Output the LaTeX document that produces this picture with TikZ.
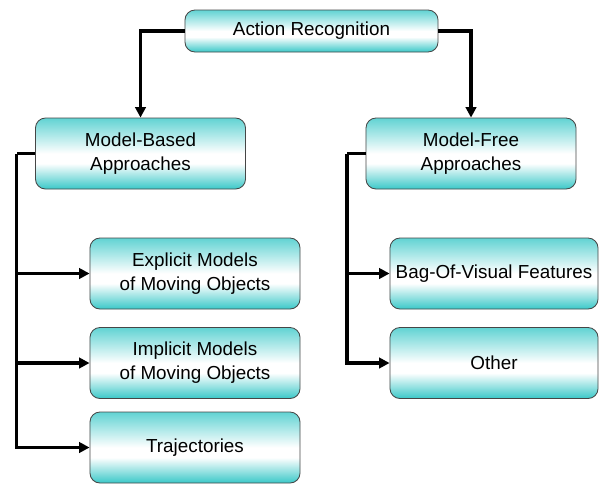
\documentclass[tikz,border=0pt]{standalone}
\usepackage{fontspec}
\setmainfont{Liberation Sans}
\usepackage{tikz}
\usetikzlibrary{arrows.meta}

\definecolor{boxteal}{RGB}{58,200,200}
\definecolor{boxedge}{RGB}{70,70,70}

% teal at top and bottom, white just below the middle
\pgfdeclareverticalshading{tealbox}{100bp}{%
  color(0bp)=(boxteal); color(25bp)=(boxteal);
  color(43bp)=(white); color(50bp)=(white);
  color(75bp)=(boxteal!80); color(100bp)=(boxteal!80)}

\tikzset{
  box/.style={draw=boxedge, line width=0.6pt, rounded corners=0.25cm,
    shading=tealbox, align=center, inner sep=0pt,
    minimum width=5.25cm, minimum height=1.775cm,
    font=\fontsize{13.4}{17}\selectfont},
  bus/.style={line width=2.4pt, line join=miter},
  conn/.style={bus, -{Triangle[length=0.26cm, width=0.26cm]}}
}

\begin{document}
\begin{tikzpicture}[x=0.025cm, y=-0.025cm]
			\useasboundingbox (0,0) rectangle (603,483);
			
			% Root
			\node[box, minimum width=6.325cm, minimum height=1.05cm] (ar) at (311.5,31) {Action Recognition};
			
			% Two families of approaches
			\node[box] (mb) at (140.5,153.5) {Model-Based\\Approaches};
			\node[box] (mf) at (471,153.5) {Model-Free\\Approaches};
			
			% Model-based branch
			\node[box] (expl) at (195,273.5) {Explicit Models\\of Moving Objects};
			\node[box] (impl) at (195,363) {Implicit Models\\of Moving Objects};
			\node[box] (traj) at (195,447.5) {Trajectories};
			
			% Model-free branch
			\node[box, minimum width=5.2cm] (bag) at (494,273.5) {Bag-Of-Visual Features};
			\node[box, minimum width=5.2cm] (other) at (494,363) {Other};
			
			% Root to approaches
			\draw[conn] (ar.west) -| (mb.north);
			\draw[conn] (ar.east) -| (mf.north);
			
			% Bus lines on the left of each approach
			\coordinate (mbbus) at (16.5,153.5);
			\coordinate (mfbus) at (347,153.5);
			\draw[bus] (mb.west) -- (mbbus);
			\draw[bus] (mf.west) -- (mfbus);
			\foreach \c in {expl,impl,traj}
				\draw[conn] (mbbus) |- (\c.west);
			\foreach \c in {bag,other}
				\draw[conn] (mfbus) |- (\c.west);
			
\end{tikzpicture}
\end{document}
